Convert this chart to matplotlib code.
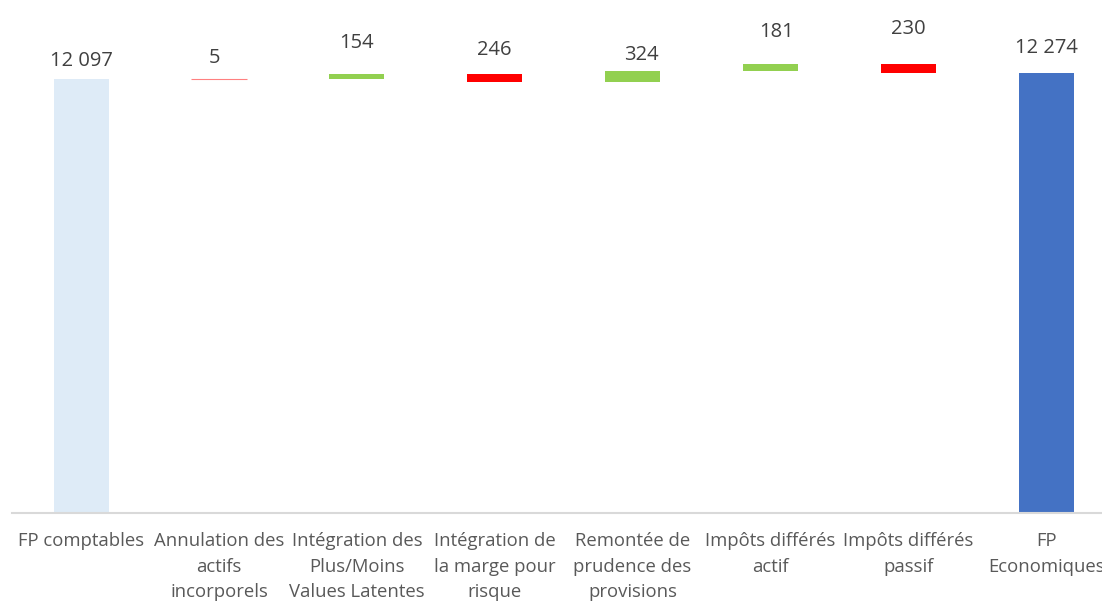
import matplotlib.pyplot as plt
import numpy as np

# data
categories = ["FP comptables", "Annulation des\nactifs\nincorporels",
              "Intégration des\nPlus/Moins\nValues Latentes",
              "Intégration de\nla marge pour\nrisque",
              "Remontée de\nprudence des\nprovisions",
              "Impôts différés\nactif", "Impôts différés\npassif",
              "FP\nEconomiques"]
start_value = 12097
deltas = [-5, 154, -246, 324, 181, -230]
end_value = 12274
labels = ["12 097", "5", "154", "246", "324", "181", "230", "12 274"]

# label placement (pixels above bar top, horizontal nudge)
label_dy = [18, 21, 31, 24, 16, 32, 35, 25]
label_dx = [0, -4, 0, 0, 9, 6, 0, 0]

# waterfall geometry
bottoms, heights, colors = [0], [start_value], ["#DEEBF7"]
level = start_value
for d in deltas:
    if d >= 0:
        bottoms.append(level)
        colors.append("#92D050")
    else:
        bottoms.append(level + d)
        colors.append("#FF0000")
    heights.append(abs(d))
    level += d
bottoms.append(0)
heights.append(end_value)
colors.append("#4472C4")

plt.rcParams['font.family'] = ['Open Sans', 'DejaVu Sans']

fig = plt.figure(figsize=(11.02, 6.01), dpi=100)
ax = fig.add_axes([12.2 / 1102, 88 / 601, 1102.8 / 1102, 502.3 / 601])

x = np.arange(len(categories))
bars = ax.bar(x, heights, bottom=bottoms, width=0.4, color=colors)
# tiny bars still show as a faint hairline
for b, h in zip(bars, heights):
    if h < 50:
        b.set_edgecolor('#FF8080')
        b.set_linewidth(0.8)

for i in range(len(x)):
    top = bottoms[i] + heights[i]
    ax.annotate(labels[i], (x[i], top), xytext=(label_dx[i], label_dy[i]),
                textcoords='offset pixels', ha='center', va='center',
                fontsize=14.5, color='#404040')

ax.set_xlim(-0.5, 7.5)
ax.set_ylim(0, 14000)
ax.set_yticks([])
ax.set_xticks(x)
ax.set_xticklabels(categories, fontsize=13.3, color='#595959', linespacing=1.52)
ax.tick_params(axis='x', length=0, pad=14)
for side in ['left', 'right', 'top']:
    ax.spines[side].set_visible(False)
ax.spines['bottom'].set_color('#D9D9D9')
ax.spines['bottom'].set_linewidth(1.5)

fig.savefig('out.png', dpi=100)
